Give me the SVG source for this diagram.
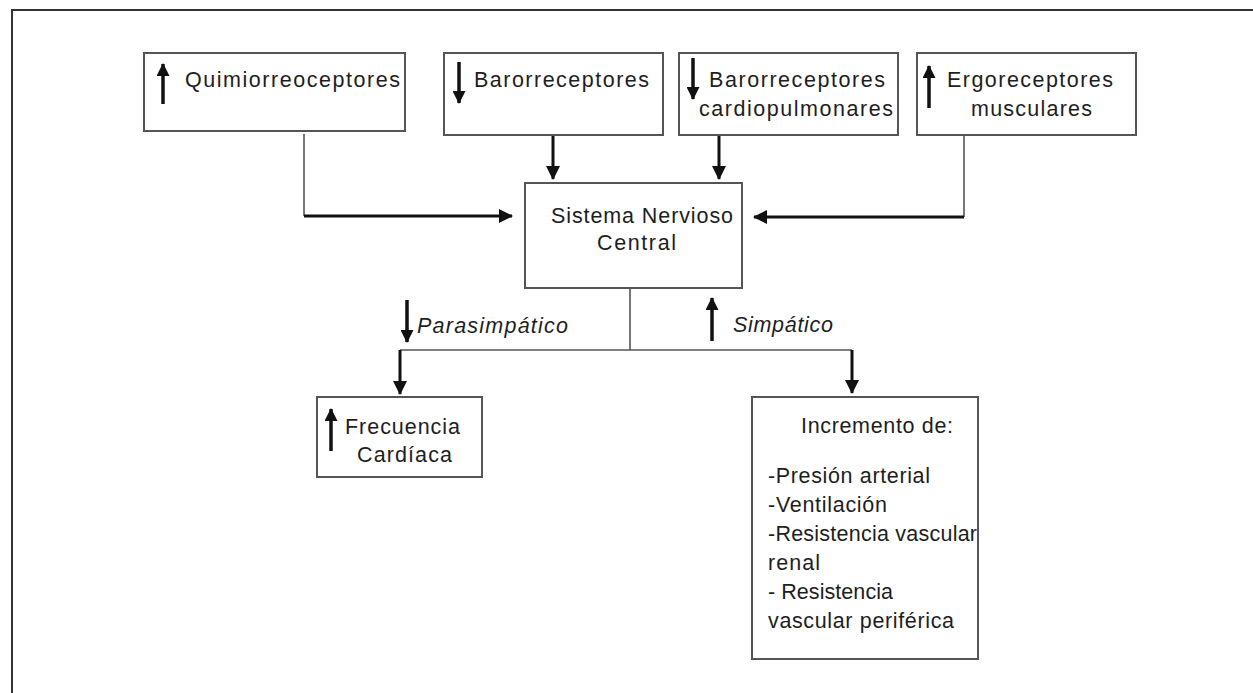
<svg xmlns="http://www.w3.org/2000/svg" width="1253" height="693" viewBox="0 0 1253 693">
<style>
.box{fill:#fff;stroke:#555;stroke-width:2}
.t{font-family:"Liberation Sans",Arial,sans-serif;font-size:21.5px;fill:#1e1e1e}
.i{font-style:italic}
.thin{fill:none;stroke:#555;stroke-width:1.6}
.ar{fill:none;stroke:#111;stroke-width:3;marker-end:url(#ah)}
.sa{fill:none;stroke:#111;stroke-width:3.5;marker-end:url(#sh)}
</style>
<defs>
<marker id="ah" markerUnits="userSpaceOnUse" markerWidth="14" markerHeight="14" refX="13" refY="7" orient="auto">
<path d="M0,0 L14,7 L0,14 z" fill="#111"/>
</marker>
<marker id="sh" markerUnits="userSpaceOnUse" markerWidth="13" markerHeight="13" refX="12" refY="6.5" orient="auto">
<path d="M0,0 L13,6.5 L0,13 z" fill="#111"/>
</marker>
</defs>
<rect width="1253" height="693" fill="#fff"/>
<path d="M12,693 V10 H1253" fill="none" stroke="#333" stroke-width="2"/>

<g id="connectors">
<path class="thin" d="M304,134 V216"/>
<path class="ar" d="M304,216 H512"/>
<path class="thin" d="M964,135 V217"/>
<path class="ar" d="M964,217 H754"/>
<path class="ar" d="M553,135 V179"/>
<path class="ar" d="M719,135 V179"/>
<path class="thin" d="M630,288 V350 M400,350 H852"/>
<path class="ar" d="M400,350 V394"/>
<path class="ar" d="M852,350 V393"/>
</g>

<g id="quimio">
<rect class="box" x="144" y="53" width="261" height="78"/>
<path class="sa" d="M163,104 V64"/>
<text class="t" x="185" y="87" textLength="215" lengthAdjust="spacing">Quimiorreoceptores</text>
</g>

<g id="baro">
<rect class="box" x="444" y="53" width="219" height="82"/>
<path class="sa" d="M459,62 V103"/>
<text class="t" x="474" y="87" textLength="175" lengthAdjust="spacing">Barorreceptores</text>
</g>

<g id="barocardio">
<rect class="box" x="679" y="53" width="219" height="82"/>
<path class="sa" d="M693,58 V99"/>
<text class="t" x="709" y="87" textLength="176" lengthAdjust="spacing">Barorreceptores</text>
<text class="t" x="699" y="116" textLength="194" lengthAdjust="spacing">cardiopulmonares</text>
</g>

<g id="ergo">
<rect class="box" x="917" y="53" width="219" height="82"/>
<path class="sa" d="M929,108 V66"/>
<text class="t" x="947" y="87" textLength="166" lengthAdjust="spacing">Ergoreceptores</text>
<text class="t" x="971" y="116" textLength="121" lengthAdjust="spacing">musculares</text>
</g>

<g id="snc">
<rect class="box" x="525" y="183" width="217" height="105"/>
<text class="t" x="551" y="223" textLength="182" lengthAdjust="spacing">Sistema Nervioso</text>
<text class="t" x="597" y="250" textLength="79" lengthAdjust="spacing">Central</text>
</g>

<g id="parasimpatico">
<path class="sa" d="M407,300 V342"/>
<text class="t i" x="417" y="333" textLength="151" lengthAdjust="spacing">Parasimpático</text>
</g>

<g id="simpatico">
<path class="sa" d="M712,341 V298"/>
<text class="t i" x="733" y="332" textLength="100" lengthAdjust="spacing">Simpático</text>
</g>

<g id="frecuencia">
<rect class="box" x="317" y="397" width="165" height="80"/>
<path class="sa" d="M331,451 V409"/>
<text class="t" x="345" y="434" textLength="115" lengthAdjust="spacing">Frecuencia</text>
<text class="t" x="357" y="462" textLength="95" lengthAdjust="spacing">Cardíaca</text>
</g>

<g id="incremento">
<rect class="box" x="752" y="397" width="226" height="262"/>
<text class="t" x="801" y="433" textLength="152" lengthAdjust="spacing">Incremento de:</text>
<text class="t" x="768" y="483" textLength="162" lengthAdjust="spacing">-Presión arterial</text>
<text class="t" x="768" y="512" textLength="119" lengthAdjust="spacing">-Ventilación</text>
<text class="t" x="768" y="541" textLength="209" lengthAdjust="spacing">-Resistencia vascular</text>
<text class="t" x="768" y="570" textLength="52" lengthAdjust="spacing">renal</text>
<text class="t" x="768" y="599" textLength="125" lengthAdjust="spacing">- Resistencia</text>
<text class="t" x="768" y="628" textLength="186" lengthAdjust="spacing">vascular periférica</text>
</g>
</svg>
